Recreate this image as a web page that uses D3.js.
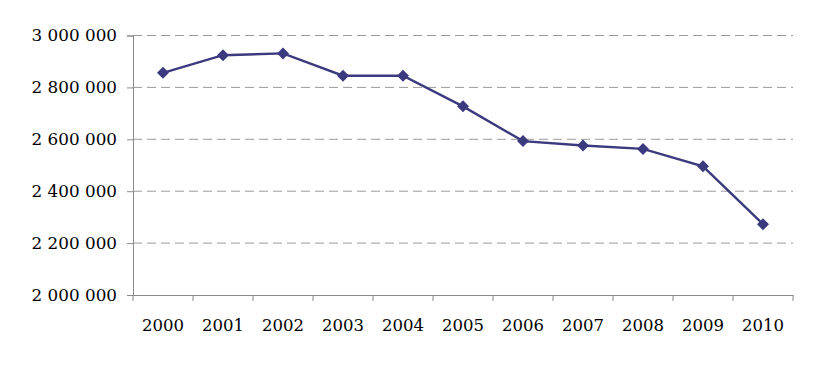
<!DOCTYPE html>
<html><head><meta charset="utf-8">
<script src="https://cdn.jsdelivr.net/npm/d3@7"></script>
<style>body{margin:0;background:#fff}svg{display:block}</style>
</head><body>
<svg id="c" width="823" height="366"></svg>
<script>
const years = ["2000","2001","2002","2003","2004","2005","2006","2007","2008","2009","2010"];
const values = [2856000,2924000,2931000,2845000,2845000,2727000,2593000,2576000,2563000,2496000,2273000];
const yTicks = [2000000,2200000,2400000,2600000,2800000,3000000];

const svg = d3.select("#c");
const m = {left:133, right:30, top:35.5, bottom:71};
const W = 823, H = 366;
const x = d3.scaleBand().domain(years).range([m.left, W - m.right]);
const y = d3.scaleLinear().domain([2000000,3000000]).range([H - m.bottom, m.top]);
const fmt = v => d3.format(",")(v).replace(/,/g, " ");
const font = "'DejaVu Serif', serif";

// gridlines
svg.append("g").selectAll("line").data(yTicks.filter(t => t > 2000000)).join("line")
  .attr("x1", m.left).attr("x2", W - m.right)
  .attr("y1", d => y(d)).attr("y2", d => y(d))
  .attr("stroke", "#9a9a9a").attr("stroke-width", 1).attr("stroke-dasharray", "9,5");

// y axis
const ya = svg.append("g").attr("transform", `translate(${m.left},0)`)
  .call(d3.axisLeft(y).tickValues(yTicks).tickFormat(fmt).tickSize(6).tickPadding(10));
ya.select(".domain").attr("stroke", "#8a8a8a");
ya.selectAll(".tick line").attr("stroke", "#8a8a8a");
ya.selectAll("text").attr("font-family", font).attr("font-size", "16.8px").attr("fill", "#000");

// x axis
const xa = svg.append("g").attr("transform", `translate(0,${y(2000000)})`)
  .call(d3.axisBottom(x).tickSize(0).tickPadding(24));
xa.select(".domain").attr("stroke", "#8a8a8a");
xa.selectAll(".tick line").remove();
xa.append("g").selectAll("line").data(years.concat(["end"])).join("line")
  .attr("x1", (d,i) => m.left + i * x.step()).attr("x2", (d,i) => m.left + i * x.step())
  .attr("y1", 0).attr("y2", 6).attr("stroke", "#8a8a8a");
xa.selectAll(".tick text").attr("font-family", font).attr("font-size", "16.5px").attr("fill", "#000");

// line
const cx = d => x(d) + x.bandwidth() / 2;
svg.append("path").datum(values)
  .attr("fill", "none").attr("stroke", "#3c3a7e").attr("stroke-width", 2.4)
  .attr("d", d3.line().x((d,i) => cx(years[i])).y(d => y(d)));

// markers
svg.append("g").selectAll("path").data(values).join("path")
  .attr("transform", (d,i) => `translate(${cx(years[i])},${y(d)})`)
  .attr("d", "M0,-6L6,0L0,6L-6,0Z")
  .attr("fill", "#3c3a7e");
</script>
</body></html>
